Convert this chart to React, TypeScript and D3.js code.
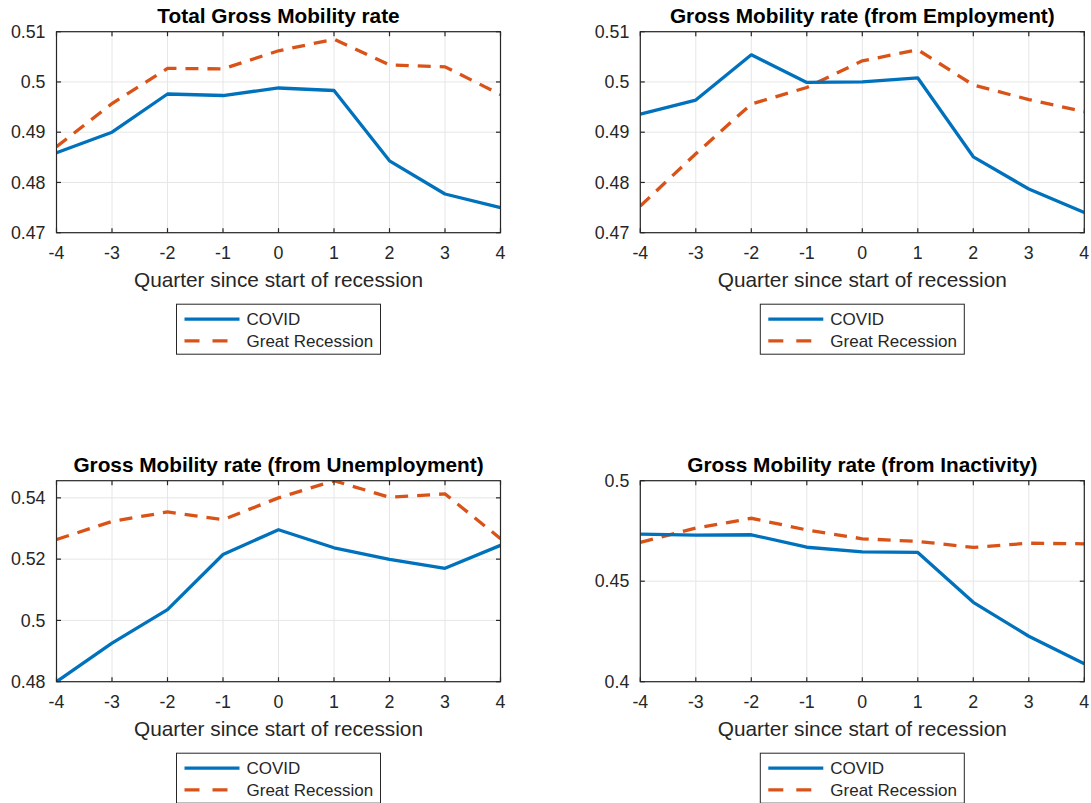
import * as d3 from 'd3'

// --- DATA ---
const quarters = [-4, -3, -2, -1, 0, 1, 2, 3, 4]
const xTicks = [-4, -3, -2, -1, 0, 1, 2, 3, 4]

const totalCovid = [0.4859, 0.49, 0.4976, 0.4973, 0.4988, 0.4983, 0.4843, 0.4777, 0.475]
const totalGreat = [0.4871, 0.4957, 0.5027, 0.5026, 0.5062, 0.5085, 0.5034, 0.503, 0.4975]

const employmentCovid = [0.4936, 0.4964, 0.5054, 0.4999, 0.5, 0.5008, 0.4851, 0.4787, 0.474]
const employmentGreat = [0.4753, 0.4857, 0.4956, 0.4989, 0.5042, 0.5064, 0.4994, 0.4965, 0.4941]

const unemploymentCovid = [0.48, 0.4926, 0.5035, 0.5215, 0.5296, 0.5237, 0.5199, 0.517, 0.5245]
const unemploymentGreat = [0.5264, 0.5323, 0.5354, 0.5329, 0.54, 0.5456, 0.5402, 0.5413, 0.5267]

const inactivityCovid = [0.4734, 0.4729, 0.4731, 0.4669, 0.4646, 0.4643, 0.4395, 0.4226, 0.4089]
const inactivityGreat = [0.4693, 0.4764, 0.4813, 0.4755, 0.4711, 0.4698, 0.4668, 0.4689, 0.4686]

const seriesNames = ['COVID', 'Great Recession']

type Panel = {
  title: string
  covid: number[]
  great: number[]
  yDomain: [number, number]
  yTicks: number[]
  yLabels: string[]
  left: number
  top: number
}

const panels: Panel[] = [
  {
    title: 'Total Gross Mobility rate',
    covid: totalCovid,
    great: totalGreat,
    yDomain: [0.47, 0.51],
    yTicks: [0.47, 0.48, 0.49, 0.5, 0.51],
    yLabels: ['0.47', '0.48', '0.49', '0.5', '0.51'],
    left: 56.5,
    top: 31.7,
  },
  {
    title: 'Gross Mobility rate (from Employment)',
    covid: employmentCovid,
    great: employmentGreat,
    yDomain: [0.47, 0.51],
    yTicks: [0.47, 0.48, 0.49, 0.5, 0.51],
    yLabels: ['0.47', '0.48', '0.49', '0.5', '0.51'],
    left: 640.3,
    top: 31.7,
  },
  {
    title: 'Gross Mobility rate (from Unemployment)',
    covid: unemploymentCovid,
    great: unemploymentGreat,
    yDomain: [0.48, 0.5456],
    yTicks: [0.48, 0.5, 0.52, 0.54],
    yLabels: ['0.48', '0.5', '0.52', '0.54'],
    left: 56.5,
    top: 480.7,
  },
  {
    title: 'Gross Mobility rate (from Inactivity)',
    covid: inactivityCovid,
    great: inactivityGreat,
    yDomain: [0.4, 0.5],
    yTicks: [0.4, 0.45, 0.5],
    yLabels: ['0.4', '0.45', '0.5'],
    left: 640.3,
    top: 480.7,
  },
]

const W = 1091
const H = 803
const plotW = 444
const plotH = 201
const BLUE = '#0072BD'
const ORANGE = '#D95319'
const AXIS = '#262626'
const GRID = '#e6e6e6'
const FONT = '"Liberation Sans", Arial, Helvetica, sans-serif'
const TICK = 4.5

function ChartPanel({ p, idx }: { p: Panel; idx: number }) {
  const x = d3.scaleLinear().domain([-4, 4]).range([0, plotW])
  const y = d3.scaleLinear().domain(p.yDomain).range([plotH, 0])

  const line = d3
    .line<number>()
    .x((_, i) => x(quarters[i]))
    .y((d) => y(d))

  const clipId = `clip-${idx}`
  const cx = plotW / 2

  return (
    <g transform={`translate(${p.left}, ${p.top})`}>
      <defs>
        <clipPath id={clipId}>
          <rect x={0} y={0} width={plotW} height={plotH} />
        </clipPath>
      </defs>

      {/* grid */}
      {xTicks.map((t) => (
        <line key={`gx${t}`} x1={x(t)} x2={x(t)} y1={0} y2={plotH} stroke={GRID} strokeWidth={1} />
      ))}
      {p.yTicks.map((t) => (
        <line key={`gy${t}`} x1={0} x2={plotW} y1={y(t)} y2={y(t)} stroke={GRID} strokeWidth={1} />
      ))}

      {/* series */}
      <g clipPath={`url(#${clipId})`}>
        <path d={line(p.great) || ''} fill="none" stroke={ORANGE} strokeWidth={3.3} strokeDasharray="13 9" />
        <path d={line(p.covid) || ''} fill="none" stroke={BLUE} strokeWidth={3.3} strokeLinejoin="round" />
      </g>

      {/* box + ticks */}
      <rect x={0} y={0} width={plotW} height={plotH} fill="none" stroke={AXIS} strokeWidth={1.2} />
      {xTicks.map((t) => (
        <g key={`tx${t}`}>
          <line x1={x(t)} x2={x(t)} y1={plotH} y2={plotH - TICK} stroke={AXIS} strokeWidth={1.2} />
          <line x1={x(t)} x2={x(t)} y1={0} y2={TICK} stroke={AXIS} strokeWidth={1.2} />
          <text x={x(t)} y={plotH + 26} textAnchor="middle" fontSize={17.8} fill={AXIS} fontFamily={FONT}>
            {String(t)}
          </text>
        </g>
      ))}
      {p.yTicks.map((t, i) => (
        <g key={`ty${t}`}>
          <line x1={0} x2={TICK} y1={y(t)} y2={y(t)} stroke={AXIS} strokeWidth={1.2} />
          <line x1={plotW} x2={plotW - TICK} y1={y(t)} y2={y(t)} stroke={AXIS} strokeWidth={1.2} />
          <text x={-11} y={y(t) + 6.3} textAnchor="end" fontSize={17.8} fill={AXIS} fontFamily={FONT}>
            {p.yLabels[i]}
          </text>
        </g>
      ))}

      {/* title & label */}
      <text x={cx} y={-9} textAnchor="middle" fontSize={20.8} fontWeight="bold" fill="#000" fontFamily={FONT}>
        {p.title}
      </text>
      <text x={cx} y={plotH + 54.5} textAnchor="middle" fontSize={20.8} fill={AXIS} fontFamily={FONT}>
        Quarter since start of recession
      </text>

      {/* legend */}
      <g transform={`translate(${cx - 102}, ${plotH + 71.5})`}>
        <rect x={0} y={0} width={204} height={50} fill="#fff" stroke={AXIS} strokeWidth={1} />
        <line x1={8} x2={63} y1={15} y2={15} stroke={BLUE} strokeWidth={3.3} />
        <line x1={8} x2={63} y1={36.7} y2={36.7} stroke={ORANGE} strokeWidth={3.3} strokeDasharray="15 13" />
        <text x={70} y={21} fontSize={17} fill={AXIS} fontFamily={FONT}>
          {seriesNames[0]}
        </text>
        <text x={70} y={42.7} fontSize={17} fill={AXIS} fontFamily={FONT}>
          {seriesNames[1]}
        </text>
      </g>
    </g>
  )
}

export default function App() {
  return (
    <div style={{ position: 'fixed', left: 0, top: 0, width: W, height: H, background: '#fff' }}>
      <svg width={W} height={H} style={{ display: 'block' }}>
        <rect width={W} height={H} fill="#fff" />
        {panels.map((p, i) => (
          <ChartPanel key={p.title} p={p} idx={i} />
        ))}
      </svg>
    </div>
  )
}
